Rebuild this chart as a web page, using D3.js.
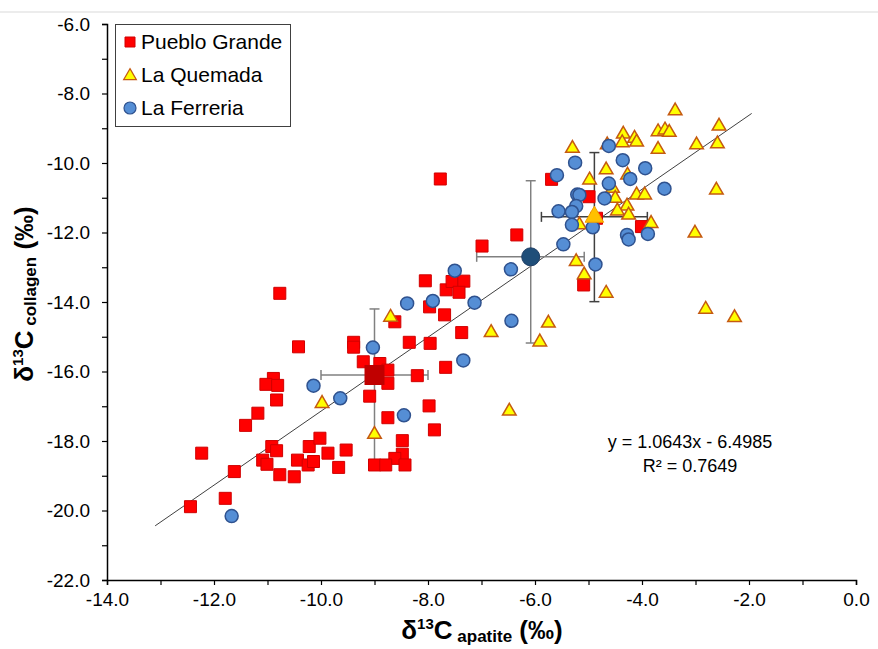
<!DOCTYPE html>
<html>
<head>
<meta charset="utf-8">
<script src="https://cdn.jsdelivr.net/npm/d3@7"></script>
<style>
  html, body { margin: 0; padding: 0; background: #fff; }
  svg { display: block; font-family: "Liberation Sans", Arial, sans-serif; }
</style>
</head>
<body>
<svg id="chart" width="878" height="649"></svg>
<script>
// ---- data (δ13C apatite, δ13C collagen) ----
const puebloGrande = [
  [-10.77,-13.75],[-10.42,-15.29],[-9.39,-15.16],[-9.39,-15.30],[-9.21,-15.72],
  [-10.89,-16.20],[-11.03,-16.37],[-10.81,-16.40],[-10.83,-16.82],[-11.18,-17.20],
  [-11.41,-17.55],[-12.23,-18.35],[-10.92,-18.16],[-10.83,-18.28],[-11.09,-18.55],
  [-11.01,-18.67],[-11.62,-18.88],[-10.77,-18.97],[-10.50,-19.03],[-10.44,-18.55],
  [-10.24,-18.69],[-10.14,-18.59],[-10.22,-18.16],[-10.02,-17.92],[-9.87,-18.35],
  [-9.67,-18.76],[-9.53,-18.26],[-11.79,-19.65],[-12.44,-19.89],
  [-8.62,-14.57],[-7.97,-14.14],[-7.69,-14.37],[-8.35,-15.16],[-7.96,-15.19],
  [-8.90,-15.77],[-8.75,-15.96],[-8.75,-16.34],[-9.09,-16.71],[-8.20,-16.12],
  [-7.67,-15.88],[-7.98,-16.99],[-7.88,-17.68],[-8.75,-17.33],[-8.48,-17.99],
  [-8.48,-18.38],[-8.62,-18.50],[-8.43,-18.69],[-9.00,-18.69],[-8.79,-18.69],
  [-7.37,-14.88],[-8.05,-13.39],[-7.66,-13.65],[-7.55,-13.41],[-7.33,-13.40],
  [-7.42,-13.72],[-6.99,-12.39],[-6.34,-12.07],[-5.69,-10.47],[-7.77,-10.46],
  [-4.99,-10.97],[-4.01,-11.83],[-5.09,-13.51],[-4.85,-11.59]
];
const laQuemada = [
  [-9.98,-16.92],[-8.70,-14.44],[-9.00,-17.81],[-6.82,-14.88],[-5.75,-14.61],
  [-5.91,-15.15],[-6.48,-17.14],[-3.38,-8.50],[-2.56,-8.94],[-3.70,-9.10],
  [-3.57,-9.05],[-3.49,-9.12],[-4.35,-9.17],[-4.14,-9.29],[-4.10,-9.40],
  [-4.37,-9.42],[-4.65,-9.48],[-5.30,-9.58],[-3.70,-9.61],[-2.98,-9.48],
  [-2.59,-9.45],[-4.67,-10.20],[-4.27,-10.35],[-4.98,-10.49],[-4.55,-10.73],
  [-4.10,-10.92],[-3.95,-10.92],[-4.50,-11.02],[-4.28,-11.24],[-4.46,-11.38],
  [-4.25,-11.50],[-5.17,-11.78],[-3.83,-11.74],[-2.61,-10.78],[-3.01,-12.02],
  [-5.23,-12.84],[-5.08,-13.22],[-4.67,-13.75],[-2.81,-14.21],[-2.27,-14.45]
];
const laFerreria = [
  [-10.14,-16.41],[-9.64,-16.77],[-11.67,-20.16],[-9.03,-15.31],[-8.45,-17.26],
  [-8.39,-14.04],[-7.91,-13.97],[-7.50,-13.10],[-6.45,-13.06],[-7.13,-14.02],
  [-6.44,-14.54],[-7.34,-15.68],[-5.59,-10.35],[-5.25,-9.99],[-4.62,-9.51],
  [-4.36,-9.92],[-3.94,-10.15],[-4.22,-10.46],[-4.62,-10.59],[-3.58,-10.74],
  [-5.21,-10.91],[-5.17,-10.92],[-4.70,-11.02],[-5.23,-11.24],[-5.56,-11.39],
  [-5.31,-11.41],[-5.31,-11.78],[-4.92,-11.85],[-4.28,-12.07],[-4.25,-12.20],
  [-3.89,-12.04],[-5.47,-12.34],[-4.87,-12.92]
];
// group means: [x, y, xLow, xHigh, yLow, yHigh]
const meanPG = [-9.00, -16.10, -10.00, -8.00, -18.70, -14.20];
const meanLQ = [-4.89, -11.55, -5.88, -3.90, -13.99, -9.70];
const meanLF = [-6.08, -12.70, -7.09, -5.08, -15.18, -10.51];
// trendline
const slope = 1.0643, intercept = -6.4985;
const trendRange = [-13.1, -1.95];
const seriesNames = ["Pueblo Grande", "La Quemada", "La Ferreria"];
const xTicks = d3.range(-14, 0.01, 1);
const yTicks = d3.range(-22, -5.99, 1);

// ---- drawing ----
const svg = d3.select("#chart");
const x = d3.scaleLinear().domain([-14, 0]).range([107, 856]);
const y = d3.scaleLinear().domain([-22, -6]).range([580, 24]);

svg.append("line").attr("x1", 0).attr("x2", 878).attr("y1", 12).attr("y2", 12)
  .attr("stroke", "#d9d9d9").attr("stroke-width", 1);

const fmt = d => (Math.round(d) % 2 === 0) ? d.toFixed(1) : "";

const xAxis = svg.append("g").attr("transform", "translate(0,580)")
  .call(d3.axisBottom(x).tickValues(xTicks).tickFormat(fmt).tickSize(5).tickPadding(8));
const yAxis = svg.append("g").attr("transform", "translate(107,0)")
  .call(d3.axisLeft(y).tickValues(yTicks).tickFormat(fmt).tickSize(5).tickPadding(12));
[xAxis, yAxis].forEach(g => {
  g.select(".domain").attr("stroke", "#000").attr("stroke-width", 1.5);
  g.selectAll(".tick line").attr("stroke", "#000").attr("stroke-width", 1.2);
  g.selectAll(".tick text").attr("fill", "#000").style("font-size", "19px")
    .style("font-family", "'Liberation Sans', Arial, sans-serif");
});

// trendline
svg.append("line")
  .attr("x1", x(trendRange[0])).attr("y1", y(slope * trendRange[0] + intercept))
  .attr("x2", x(trendRange[1])).attr("y2", y(slope * trendRange[1] + intercept))
  .attr("stroke", "#404040").attr("stroke-width", 1);

// error bars
function errorBars(m, color) {
  const g = svg.append("g").attr("stroke", color).attr("stroke-width", 1.5).attr("fill", "none");
  const cap = 5;
  g.append("line").attr("x1", x(m[2])).attr("x2", x(m[3])).attr("y1", y(m[1])).attr("y2", y(m[1]));
  g.append("line").attr("x1", x(m[2])).attr("x2", x(m[2])).attr("y1", y(m[1]) - cap).attr("y2", y(m[1]) + cap);
  g.append("line").attr("x1", x(m[3])).attr("x2", x(m[3])).attr("y1", y(m[1]) - cap).attr("y2", y(m[1]) + cap);
  g.append("line").attr("x1", x(m[0])).attr("x2", x(m[0])).attr("y1", y(m[4])).attr("y2", y(m[5]));
  g.append("line").attr("x1", x(m[0]) - cap).attr("x2", x(m[0]) + cap).attr("y1", y(m[4])).attr("y2", y(m[4]));
  g.append("line").attr("x1", x(m[0]) - cap).attr("x2", x(m[0]) + cap).attr("y1", y(m[5])).attr("y2", y(m[5]));
}
errorBars(meanPG, "#808080");
errorBars(meanLF, "#808080");
errorBars(meanLQ, "#404040");

const sq = d3.symbol().type(d3.symbolSquare).size(144);
const tri = d3.symbol().type(d3.symbolTriangle).size(80);

svg.append("g").selectAll("path").data(puebloGrande).join("path")
  .attr("d", sq).attr("transform", d => `translate(${x(d[0])},${y(d[1])})`)
  .attr("fill", "#ff0000").attr("stroke", "#d00000").attr("stroke-width", 1);

svg.append("g").selectAll("path").data(laQuemada).join("path")
  .attr("d", tri).attr("transform", d => `translate(${x(d[0])},${y(d[1])})`)
  .attr("fill", "#ffff00").attr("stroke", "#c55a11").attr("stroke-width", 1.5);

svg.append("g").selectAll("circle").data(laFerreria).join("circle")
  .attr("cx", d => x(d[0])).attr("cy", d => y(d[1])).attr("r", 6.5)
  .attr("fill", "#558ed5").attr("stroke", "#2f528f").attr("stroke-width", 1.5);

// means
svg.append("path").attr("d", d3.symbol().type(d3.symbolSquare).size(400)())
  .attr("transform", `translate(${x(meanPG[0])},${y(meanPG[1])})`).attr("fill", "#c00000");
svg.append("path").attr("d", d3.symbol().type(d3.symbolTriangle).size(150)())
  .attr("transform", `translate(${x(meanLQ[0])},${y(meanLQ[1])})`)
  .attr("fill", "#ffc000").attr("stroke", "#f0a000").attr("stroke-width", 1);
svg.append("circle").attr("cx", x(meanLF[0])).attr("cy", y(meanLF[1])).attr("r", 9)
  .attr("fill", "#1f4e79").attr("stroke", "#1f3f66").attr("stroke-width", 1);

// legend
const lg = svg.append("g");
lg.append("rect").attr("x", 115.5).attr("y", 24.5).attr("width", 175).attr("height", 102)
  .attr("fill", "#fff").attr("stroke", "#404040").attr("stroke-width", 1);
const legendY = [42, 75, 108];
lg.append("path").attr("d", d3.symbol().type(d3.symbolSquare).size(100)())
  .attr("transform", `translate(130,${legendY[0]})`).attr("fill", "#ff0000").attr("stroke", "#d00000");
lg.append("path").attr("d", d3.symbol().type(d3.symbolTriangle).size(70)())
  .attr("transform", `translate(130,${legendY[1] + 1})`).attr("fill", "#ffff00").attr("stroke", "#c55a11").attr("stroke-width", 1.2);
lg.append("circle").attr("cx", 130).attr("cy", legendY[2]).attr("r", 6)
  .attr("fill", "#558ed5").attr("stroke", "#2f528f").attr("stroke-width", 1.2);
seriesNames.forEach((n, i) => {
  lg.append("text").attr("x", 141).attr("y", legendY[i] + 7).text(n)
    .style("font-size", "21px").attr("fill", "#000");
});

// equation
svg.append("text").attr("x", 690).attr("y", 448).attr("text-anchor", "middle")
  .style("font-size", "18px").text("y = 1.0643x - 6.4985");
svg.append("text").attr("x", 690).attr("y", 472).attr("text-anchor", "middle")
  .style("font-size", "18px").text("R² = 0.7649");

// axis titles
function title(sel, sub) {
  sel.style("font-weight", "bold").style("font-size", "26px").attr("fill", "#000");
  sel.append("tspan").text("δ");
  sel.append("tspan").text("13").style("font-size", "15px").attr("dy", -10);
  sel.append("tspan").text("C").attr("dy", 10);
  sel.append("tspan").text(" " + sub).style("font-size", "17px").attr("dy", 3);
  sel.append("tspan").text(" (‰)").attr("dy", -3);
}
const xt = svg.append("text").attr("x", 482).attr("y", 639).attr("text-anchor", "middle");
title(xt, "apatite");
const yt = svg.append("text").attr("transform", "translate(33,294) rotate(-90)").attr("text-anchor", "middle");
title(yt, "collagen");
</script>
</body>
</html>
